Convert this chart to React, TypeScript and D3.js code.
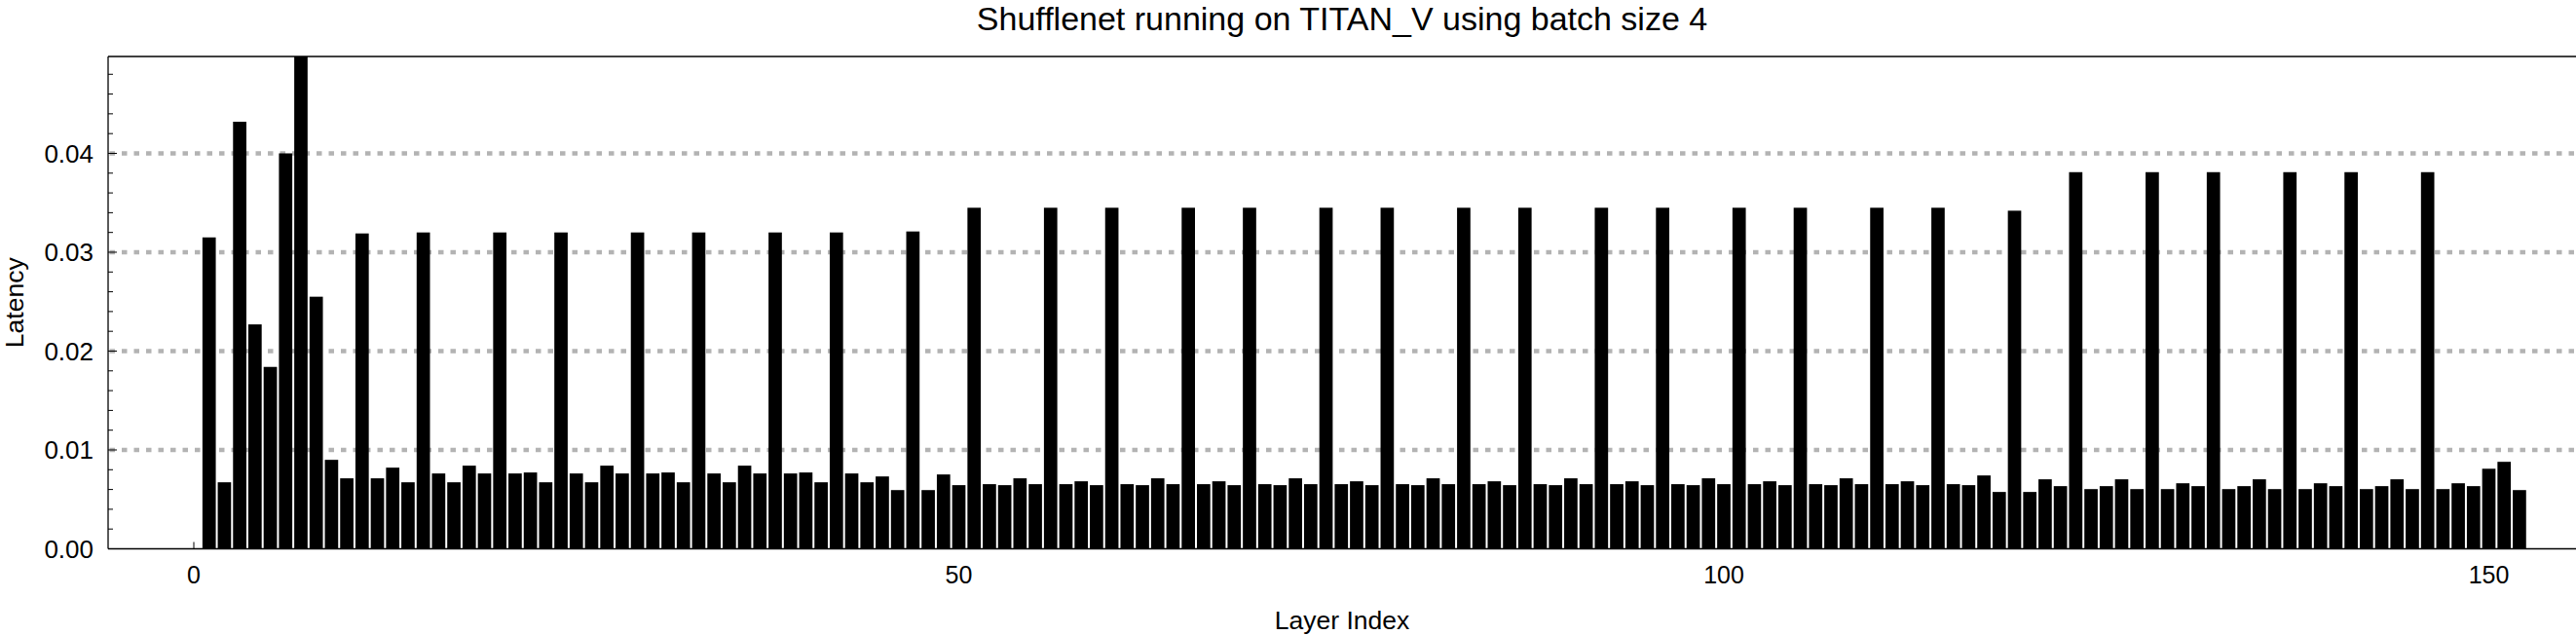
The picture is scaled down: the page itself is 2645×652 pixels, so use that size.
import React from "react";
import * as d3 from "d3";

const TITLE = "Shufflenet running on TITAN_V using batch size 4";
const X_LABEL = "Layer Index";
const Y_LABEL = "Latency";

// latency of layers 1..152
const latency: number[] = [
  0.0315, 0.00673, 0.0432, 0.0227, 0.0184, 0.04, 0.0498, 0.0255, 0.009, 0.00713,
  0.0319, 0.00713, 0.00821, 0.00673, 0.032, 0.00762, 0.00673, 0.00841, 0.00762, 0.032,
  0.00762, 0.00772, 0.00673, 0.032, 0.00762, 0.00673, 0.00841, 0.00762, 0.032, 0.00762,
  0.00772, 0.00673, 0.032, 0.00762, 0.00673, 0.00841, 0.00762, 0.032, 0.00762, 0.00772,
  0.00673, 0.032, 0.00762, 0.00673, 0.00732, 0.00594, 0.0321, 0.00594, 0.00752, 0.00644,
  0.0345, 0.00654, 0.00644, 0.00713, 0.00654, 0.0345, 0.00654, 0.00683, 0.00644, 0.0345,
  0.00654, 0.00644, 0.00713, 0.00654, 0.0345, 0.00654, 0.00683, 0.00644, 0.0345, 0.00654,
  0.00644, 0.00713, 0.00654, 0.0345, 0.00654, 0.00683, 0.00644, 0.0345, 0.00654, 0.00644,
  0.00713, 0.00654, 0.0345, 0.00654, 0.00683, 0.00644, 0.0345, 0.00654, 0.00644, 0.00713,
  0.00654, 0.0345, 0.00654, 0.00683, 0.00644, 0.0345, 0.00654, 0.00644, 0.00713, 0.00654,
  0.0345, 0.00654, 0.00683, 0.00644, 0.0345, 0.00654, 0.00644, 0.00713, 0.00654, 0.0345,
  0.00654, 0.00683, 0.00644, 0.0345, 0.00654, 0.00644, 0.00742, 0.00575, 0.0342, 0.00575,
  0.00703, 0.00634, 0.0381, 0.00604, 0.00634, 0.00703, 0.00604, 0.0381, 0.00604, 0.00663,
  0.00634, 0.0381, 0.00604, 0.00634, 0.00703, 0.00604, 0.0381, 0.00604, 0.00663, 0.00634,
  0.0381, 0.00604, 0.00634, 0.00703, 0.00604, 0.0381, 0.00604, 0.00663, 0.00634, 0.0081,
  0.0088, 0.00594,
];
const layers: number[] = latency.map((_, i) => i + 1);

const xTicks: number[] = [0, 50, 100, 150];
const yTicks: number[] = [0, 0.01, 0.02, 0.03, 0.04];
const yMinorTicks: number[] = [0.002, 0.004, 0.006, 0.008, 0.012, 0.014, 0.016, 0.018, 0.022, 0.024, 0.026, 0.028, 0.032, 0.034, 0.036, 0.038, 0.042, 0.044, 0.046, 0.048];
const gridValues: number[] = [0.01, 0.02, 0.03, 0.04];

const W = 2645;
const H = 652;
const FONT = "'Liberation Sans', Arial, Helvetica, sans-serif";

export default function App() {
  const left = 111;
  const right = 2650;
  const top = 58;
  const bottom = 563.5;

  const x = d3.scaleLinear().domain([0, 150]).range([199, 2555.5]);
  const y = d3.scaleLinear().domain([0, 0.0498]).range([bottom, top]);
  const unit = x(1) - x(0);
  const bw = unit * 0.872;

  return (
    <svg
      width={W}
      height={H}
      style={{ position: "absolute", left: 0, top: 0, background: "#fff" }}
      fontFamily={FONT}
    >
      <rect x={0} y={0} width={W} height={H} fill="#fff" />
      {/* grid */}
      {gridValues.map((g) => (
        <line
          key={"g" + g}
          x1={left}
          x2={right}
          y1={y(g)}
          y2={y(g)}
          stroke="#b3b3b3"
          strokeWidth={4.5}
          strokeDasharray="5.5 7"
          strokeDashoffset={-14}
        />
      ))}
      {/* x ticks */}
      {xTicks.map((t) => (
        <line key={"xt" + t} x1={x(t)} x2={x(t)} y1={bottom} y2={bottom - 7} stroke="#000" strokeWidth={1} />
      ))}
      {/* bars */}
      {latency.map((v, i) => (
        <rect
          key={"b" + i}
          x={x(layers[i]) - bw / 2}
          y={y(Math.min(v, 0.0498))}
          width={bw}
          height={bottom - y(Math.min(v, 0.0498))}
          fill="#000"
        />
      ))}
      {/* frame */}
      <line x1={left} x2={right} y1={top} y2={top} stroke="#000" strokeWidth={1.3} />
      <line x1={left} x2={right} y1={bottom} y2={bottom} stroke="#000" strokeWidth={1.3} />
      <line x1={left} x2={left} y1={top} y2={bottom} stroke="#000" strokeWidth={1.3} />
      {/* y ticks */}
      {yTicks.map((t) => (
        <line key={"yt" + t} x1={left} x2={left + 9} y1={y(t)} y2={y(t)} stroke="#000" strokeWidth={1} />
      ))}
      {yMinorTicks.map((t) => (
        <line key={"ym" + t} x1={left} x2={left + 5} y1={y(t)} y2={y(t)} stroke="#000" strokeWidth={1} />
      ))}
      {/* y tick labels */}
      {yTicks.map((t) => (
        <text key={"yl" + t} x={96} y={y(t)} dy="0.35em" textAnchor="end" fontSize={26} fill="#000">
          {d3.format(".2f")(t)}
        </text>
      ))}
      {/* x tick labels */}
      {xTicks.map((t) => (
        <text key={"xl" + t} x={x(t)} y={599} textAnchor="middle" fontSize={25} fill="#000">
          {t}
        </text>
      ))}
      {/* title */}
      <text x={(left + 2645) / 2} y={31} textAnchor="middle" fontSize={34} fill="#000">
        {TITLE}
      </text>
      {/* axis labels */}
      <text x={(left + 2645) / 2} y={646} textAnchor="middle" fontSize={26.5} fill="#000">
        {X_LABEL}
      </text>
      <text
        transform={`translate(24, ${(top + bottom) / 2}) rotate(-90)`}
        textAnchor="middle"
        fontSize={26.5}
        fill="#000"
      >
        {Y_LABEL}
      </text>
    </svg>
  );
}
